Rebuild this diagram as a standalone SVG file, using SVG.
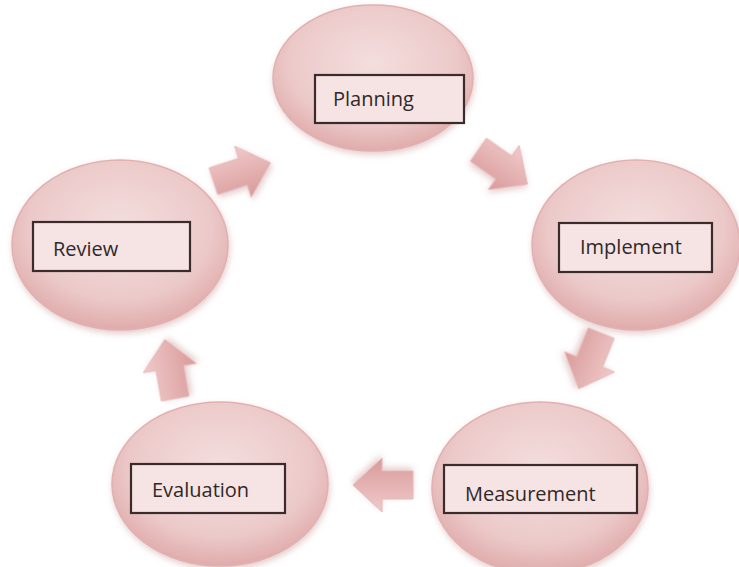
<svg xmlns="http://www.w3.org/2000/svg" width="739" height="567" viewBox="0 0 739 567">
<defs>
<radialGradient id="eg" cx="50%" cy="40%" r="60%">
<stop offset="0" stop-color="#f4dede"/>
<stop offset="0.7" stop-color="#ecc9c9"/>
<stop offset="1" stop-color="#e0abab"/>
</radialGradient>
<linearGradient id="ag" x1="0" y1="0" x2="0" y2="1">
<stop offset="0" stop-color="#f0caca"/>
<stop offset="1" stop-color="#d99a9a"/>
</linearGradient>
<filter id="sh" x="-20%" y="-20%" width="140%" height="140%">
<feGaussianBlur in="SourceAlpha" stdDeviation="3"/>
<feOffset dx="1" dy="3" result="b"/>
<feFlood flood-color="#c08080" flood-opacity="0.4"/>
<feComposite in2="b" operator="in"/>
<feMerge><feMergeNode/><feMergeNode in="SourceGraphic"/></feMerge>
</filter>
<path id="arr" d="M-30,-14 L1,-14 L1,-27 L30,0 L1,27 L1,14 L-30,14 Z"/>
</defs>
<style>
.el{fill:url(#eg);stroke:#e3b0b0;stroke-width:1.5;filter:url(#sh)}
.bx{fill:#f6e3e3;stroke:#3b2b2b;stroke-width:2.2}
.tx{font-family:"Open Sans","Liberation Sans",sans-serif;font-size:20px;font-weight:500;fill:#2e2a2a}
.ar{fill:url(#ag);stroke:#e6b8b8;stroke-width:1;filter:url(#sh)}
</style>
<rect width="739" height="567" fill="#ffffff"/>
<g id="connectors">
<use href="#arr" class="ar" transform="translate(242,172) rotate(-18)"/>
<use href="#arr" class="ar" transform="translate(503,167) rotate(35)"/>
<use href="#arr" class="ar" transform="translate(590,361) rotate(112)"/>
<use href="#arr" class="ar" transform="translate(383,485) rotate(180)"/>
<use href="#arr" class="ar" transform="translate(170,369) rotate(-100)"/>
</g>
<g id="planning">
<ellipse class="el" cx="373" cy="78" rx="100" ry="73"/>
<rect class="bx" x="315" y="75" width="149" height="48"/>
<text class="tx" x="333" y="106">Planning</text>
</g>
<g id="implement">
<ellipse class="el" cx="636" cy="245" rx="104" ry="85"/>
<rect class="bx" x="559" y="223" width="153" height="49"/>
<text class="tx" x="580" y="254">Implement</text>
</g>
<g id="measurement">
<ellipse class="el" cx="540" cy="488" rx="108" ry="86"/>
<rect class="bx" x="444" y="465" width="193" height="48"/>
<text class="tx" x="465" y="501">Measurement</text>
</g>
<g id="evaluation">
<ellipse class="el" cx="220" cy="484" rx="108" ry="82"/>
<rect class="bx" x="131" y="464" width="154" height="49"/>
<text class="tx" x="152" y="497">Evaluation</text>
</g>
<g id="review">
<ellipse class="el" cx="120" cy="245" rx="108" ry="85"/>
<rect class="bx" x="33" y="222" width="157" height="49"/>
<text class="tx" x="53" y="256">Review</text>
</g>
</svg>
